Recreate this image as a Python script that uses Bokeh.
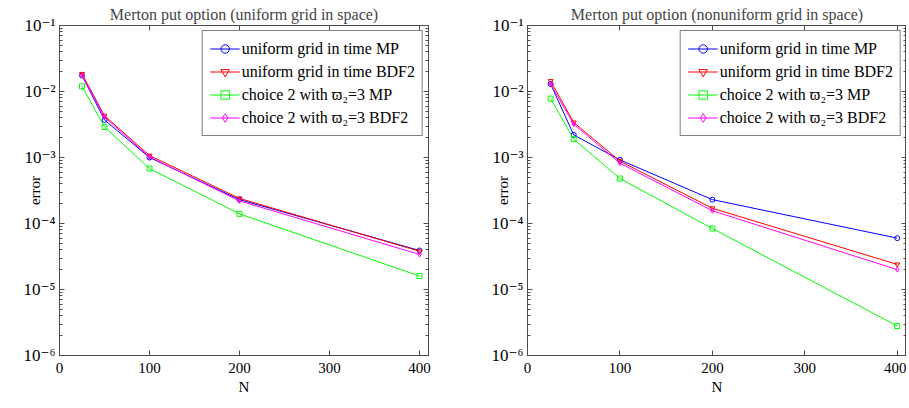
from bokeh.plotting import figure
from bokeh.layouts import row
from bokeh.models import FixedTicker, LinearAxis, LogAxis, Range1d, Legend, LegendItem
from bokeh.embed import file_html
from bokeh.resources import INLINE

N = [25, 50, 100, 200, 400]

# left panel: uniform grid in space
left_mp_uniform = [0.0175, 0.0037, 0.00100, 0.00023, 3.9e-5]
left_bdf2_uniform = [0.0185, 0.0043, 0.00107, 0.00024, 3.8e-5]
left_mp_choice2 = [0.0120, 0.0029, 0.00068, 0.00014, 1.6e-5]
left_bdf2_choice2 = [0.0175, 0.0041, 0.00102, 0.00022, 3.4e-5]

# right panel: nonuniform grid in space
right_mp_uniform = [0.0130, 0.0022, 0.00092, 0.00023, 6.0e-5]
right_bdf2_uniform = [0.0144, 0.0034, 0.00088, 0.00017, 2.4e-5]
right_mp_choice2 = [0.0078, 0.0019, 0.00048, 8.4e-5, 2.8e-6]
right_bdf2_choice2 = [0.0130, 0.0032, 0.00082, 0.000156, 2.0e-5]

series_labels = ["uniform grid in time MP", "uniform grid in time BDF2",
                 "choice 2 with \u03d6\u2082=3 MP", "choice 2 with \u03d6\u2082=3 BDF2"]
series_colors = ["#0000ff", "#ff0000", "#00ff00", "#ff00ff"]
series_markers = ["circle", "inverted_triangle", "square", "diamond"]

titles = ["Merton put option (uniform grid in space)", "Merton put option (nonuniform grid in space)"]

y_ticks = [1e-6, 1e-5, 1e-4, 1e-3, 1e-2, 1e-1]
y_tick_labels = ["10\u207b\u2076", "10\u207b\u2075", "10\u207b\u2074", "10\u207b\u00b3", "10\u207b\u00b2", "10\u207b\u00b9"]
x_ticks = [0, 100, 200, 300, 400]

FONT = "Liberation Serif"
YFONT = "'Liberation Serif', 'DejaVu Serif'"
AX = "#4d4d4d"

minor = []
for d in y_ticks[:-1]:
    for k in range(2, 10):
        minor.append(d * k)


def make_panel(title, data, mb_left, mb_right, fw):
    p = figure(frame_width=fw, frame_height=330, y_axis_type="log",
               x_range=Range1d(0, 410), y_range=Range1d(1e-6, 1e-1),
               output_backend="svg", toolbar_location=None,
               min_border_left=mb_left, min_border_right=mb_right,
               min_border_top=25, min_border_bottom=45,
               background_fill_color="white", border_fill_color="white")
    p.title.text = title
    p.title.text_font = FONT
    p.title.text_font_size = "16px"
    p.title.text_font_style = "normal"
    p.title.align = "center"
    p.title.standoff = 5
    p.title.offset = 0
    p.grid.visible = False
    p.outline_line_color = AX
    p.outline_line_width = 1

    yt = FixedTicker(ticks=y_ticks, minor_ticks=minor)
    xt = FixedTicker(ticks=x_ticks)
    p.yaxis.ticker = yt
    p.xaxis.ticker = xt
    p.yaxis.major_label_overrides = {t: l for t, l in zip(y_ticks, y_tick_labels)}
    for ax in (p.xaxis[0], p.yaxis[0]):
        ax.major_tick_in = 5
        ax.major_tick_out = 0
        ax.minor_tick_in = 3
        ax.minor_tick_out = 0
        ax.axis_line_color = AX
        ax.major_tick_line_color = AX
        ax.minor_tick_line_color = AX
        ax.major_label_text_font = FONT
        ax.major_label_text_color = "black"
        ax.axis_label_text_font = FONT
        ax.axis_label_text_font_size = "15px"
        ax.axis_label_text_font_style = "normal"
        ax.axis_label_text_color = "black"
    p.yaxis.major_label_text_font = YFONT
    p.xaxis.major_label_text_font_size = "15px"
    p.yaxis.major_label_text_font_size = "17px"
    p.xaxis.minor_tick_line_color = None
    p.xaxis.axis_label = "N"
    p.xaxis.axis_label_standoff = 3
    p.xaxis.major_label_standoff = 7
    p.yaxis.axis_label = "error"
    p.yaxis.axis_label_standoff = -22
    p.yaxis.major_label_standoff = 4

    ra = LogAxis(ticker=FixedTicker(ticks=y_ticks, minor_ticks=minor),
                 major_label_text_font_size="1px", major_label_text_color=None,
                 major_tick_in=5, major_tick_out=0,
                 minor_tick_in=3, minor_tick_out=0, axis_line_color=AX,
                 major_tick_line_color=AX, minor_tick_line_color=AX,
                 major_label_standoff=0)
    p.add_layout(ra, "right")
    ta = LinearAxis(ticker=FixedTicker(ticks=x_ticks),
                    major_label_text_font_size="1px", major_label_text_color=None,
                    major_tick_in=5, major_tick_out=0,
                    minor_tick_line_color=None, axis_line_color=AX,
                    major_tick_line_color=AX, major_label_standoff=0)
    p.add_layout(ta, "above")

    items = []
    for vals, lab, col, mk in zip(data, series_labels, series_colors, series_markers):
        ln = p.line(N, vals, line_color=col, line_width=1)
        sc = p.scatter(N, vals, marker=mk, size=5, line_color=col, fill_color=None, line_width=1)
        items.append(LegendItem(label=lab, renderers=[ln, sc]))
    leg = Legend(items=items, location="top_right", margin=5,
                 label_text_font=FONT, label_text_font_size="16px",
                 label_text_color="black", glyph_width=30, glyph_height=21,
                 label_height=21, spacing=2, padding=7, label_standoff=2,
                 border_line_color="black", border_line_width=1,
                 background_fill_color="white", background_fill_alpha=1)
    p.add_layout(leg, "center")
    return p


p1 = make_panel(titles[0], [left_mp_uniform, left_bdf2_uniform, left_mp_choice2, left_bdf2_choice2], 59, 40, 369)
p2 = make_panel(titles[1], [right_mp_uniform, right_bdf2_uniform, right_mp_choice2, right_bdf2_choice2], 59, 0, 379)

layout = row(p1, p2)
open("out.html", "w").write(file_html(layout, INLINE))
